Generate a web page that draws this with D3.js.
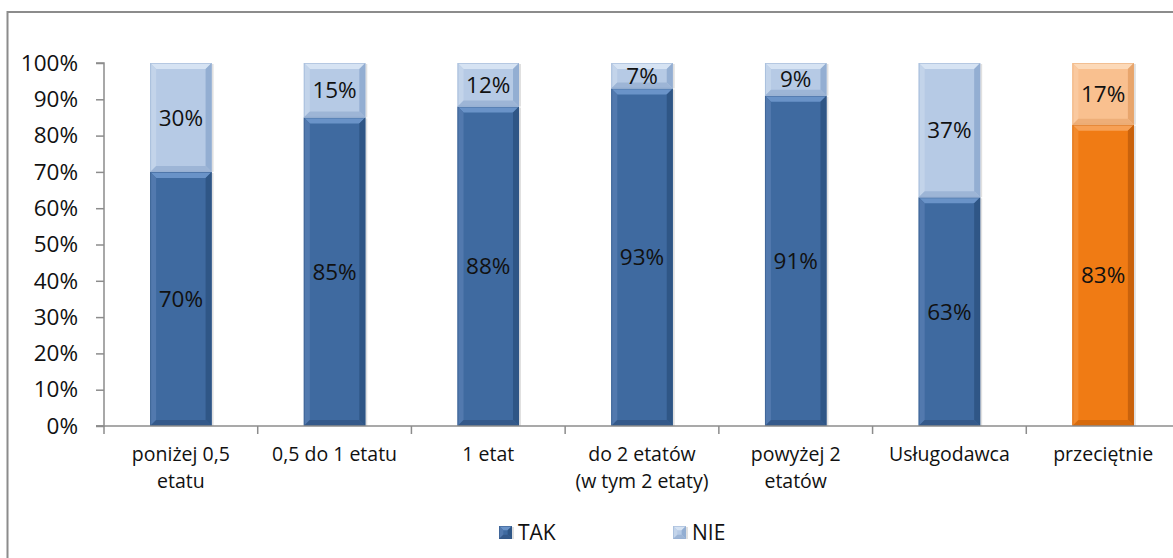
<!DOCTYPE html>
<html><head><meta charset="utf-8">
<script src="https://cdn.jsdelivr.net/npm/d3@7"></script>
<style>
html,body{margin:0;padding:0;background:#fff;}
svg{display:block;font-family:"Open Sans",Lato,sans-serif;}
</style></head>
<body>
<svg id="c" width="1173" height="558"></svg>
<script>
const categories = ["poniżej 0,5\netatu","0,5 do 1 etatu","1 etat","do 2 etatów\n(w tym 2 etaty)","powyżej 2\netatów","Usługodawca","przeciętnie"];
const takValues = [70,85,88,93,91,63,83];
const nieValues = [30,15,12,7,9,37,17];
const yTicks = [0,10,20,30,40,50,60,70,80,90,100];
const seriesNames = ["TAK","NIE"];

const svg = d3.select("#c");
const x = d3.scaleBand().domain(categories.map((d,i)=>i)).range([104,1180]).paddingInner(0.6).paddingOuter(0.3);
const y = d3.scaleLinear().domain([0,100]).range([426,63]);

// frame
svg.append("rect").attr("x",7.5).attr("y",12).attr("width",1180).attr("height",560)
  .attr("fill","none").attr("stroke","#8c8c8c").attr("stroke-width",2);

const pal = {
  TAK:{main:"#3f6aa0",top:"#6a93c8",left:"#5279ae",right:"#2f5686",bot:"#34598a"},
  NIE:{main:"#b6cae5",top:"#d6e3f3",left:"#c3d4ea",right:"#93aed2",bot:"#9db5d6"},
  TAKo:{main:"#f07b14",top:"#f7a055",left:"#f38a2c",right:"#c9620c",bot:"#d66a0d"},
  NIEo:{main:"#f9c08f",top:"#fcd9b8",left:"#fac99f",right:"#e8a56c",bot:"#eeae78"}
};

function bevelBar(g, x0, w, yTop, yBot, c){
  const b = Math.min(6, (yBot-yTop)/3);
  const x1 = x0+w;
  g.append("rect").attr("x",x1).attr("y",yTop+1).attr("width",2).attr("height",yBot-yTop-1).attr("fill","#000").attr("opacity",0.12);
  g.append("rect").attr("x",x0).attr("y",yTop).attr("width",w).attr("height",yBot-yTop).attr("fill",c.main);
  const poly = pts => g.append("polygon").attr("points",pts.map(p=>p.join(",")).join(" "));
  poly([[x0,yTop],[x1,yTop],[x1-b,yTop+b],[x0+b,yTop+b]]).attr("fill",c.top);
  poly([[x0,yTop],[x0+b,yTop+b],[x0+b,yBot-b],[x0,yBot]]).attr("fill",c.left);
  poly([[x1,yTop],[x1,yBot],[x1-b,yBot-b],[x1-b,yTop+b]]).attr("fill",c.right);
  poly([[x0,yBot],[x0+b,yBot-b],[x1-b,yBot-b],[x1,yBot]]).attr("fill",c.bot);
  g.append("rect").attr("x",x0+0.5).attr("y",yTop+0.5).attr("width",w-1).attr("height",yBot-yTop-1)
    .attr("fill","none").attr("stroke",c.right).attr("stroke-opacity",0.5);
}

const gBars = svg.append("g");
categories.forEach((cat,i)=>{
  const isAvg = i===categories.length-1;
  const cT = isAvg?pal.TAKo:pal.TAK, cN = isAvg?pal.NIEo:pal.NIE;
  const x0 = x(i), w = x.bandwidth();
  bevelBar(gBars, x0, w, y(takValues[i]), y(0), cT);
  bevelBar(gBars, x0, w, y(takValues[i]+nieValues[i]), y(takValues[i]), cN);
  gBars.append("text").attr("x",x0+w/2).attr("y",y(takValues[i]/2)).attr("dy","0.36em")
    .attr("text-anchor","middle").attr("font-size",22.5).attr("fill","#111").text(takValues[i]+"%");
  gBars.append("text").attr("x",x0+w/2).attr("y",y(takValues[i]+nieValues[i]/2)).attr("dy","0.36em")
    .attr("text-anchor","middle").attr("font-size",22.5).attr("fill","#111").text(nieValues[i]+"%");
});

// y axis
const ya = svg.append("g").attr("transform","translate(104,0)")
  .call(d3.axisLeft(y).tickValues(yTicks).tickSize(8).tickPadding(18).tickFormat(d=>d+"%"));
ya.select(".domain").attr("stroke","#8c8c8c").attr("stroke-width",1.5).attr("d","M-8,63H0V426H-8");
ya.selectAll(".tick line").attr("stroke","#8c8c8c").attr("stroke-width",1.5);
ya.selectAll(".tick text").attr("font-size",22.5).attr("fill","#111").attr("font-family","'Open Sans',sans-serif");

// x axis
const xa = svg.append("g").attr("transform","translate(0,426)");
xa.append("line").attr("x1",96).attr("x2",1180).attr("y1",0).attr("y2",0).attr("stroke","#8c8c8c").attr("stroke-width",1.5);
const step = x.step();
const start = x(0) - x.paddingOuter()*step;
d3.range(categories.length+1).forEach(k=>{
  const xx = start + k*step;
  xa.append("line").attr("x1",xx).attr("x2",xx).attr("y1",0).attr("y2",8).attr("stroke","#8c8c8c").attr("stroke-width",1.5);
});
categories.forEach((cat,i)=>{
  cat.split("\n").forEach((ln,j)=>{
    xa.append("text").attr("text-anchor","middle").attr("font-size",19.5).attr("fill","#111")
      .attr("x",x(i)+x.bandwidth()/2).attr("y",35+j*27).text(ln);
  });
});

// legend
const legX = [499,673];
seriesNames.forEach((s,i)=>{
  const g = svg.append("g").attr("transform",`translate(${legX[i]},526)`);
  const c = i===0?pal.TAK:pal.NIE;
  bevelBar(g, 0, 13, 0, 13, c);
  g.append("text").attr("x",19).attr("y",6.5).attr("dy","0.36em").attr("font-size",21).attr("fill","#111").text(s);
});
</script>
</body></html>
